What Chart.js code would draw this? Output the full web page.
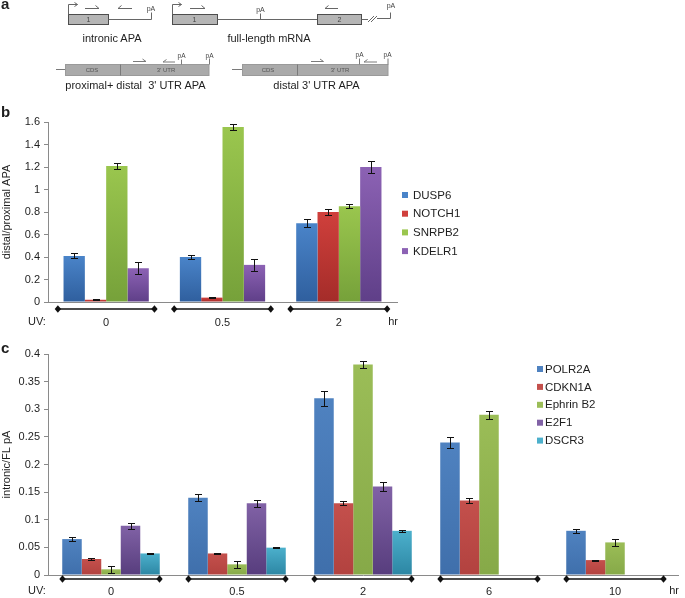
<!DOCTYPE html>
<html>
<head>
<meta charset="utf-8">
<script src="https://cdn.jsdelivr.net/npm/chart.js@4.4.0/dist/chart.umd.min.js"></script>
<style>
  body { margin: 0; background: #fff; }
  #fig { position: relative; width: 685px; height: 598px; font-family: "Liberation Sans", Arial, sans-serif; }
  #fig canvas { position: absolute; left: 0; }
  #overlay { position: absolute; left: 0; top: 0; pointer-events: none; }
  #overlay text { font-family: "Liberation Sans", Arial, sans-serif; fill: #1e1e1e; }
</style>
</head>
<body>
<div id="fig">
  <canvas id="chartB" width="685" height="235" style="top:100px"></canvas>
  <canvas id="chartC" width="685" height="263" style="top:335px"></canvas>

  <svg id="overlay" width="685" height="598">
    <!-- panel letters -->
    <text x="1" y="9" font-size="15" font-weight="bold">a</text>
    <text x="1" y="117" font-size="15" font-weight="bold">b</text>
    <text x="1" y="353" font-size="15" font-weight="bold">c</text>

    <!-- a: intronic APA -->
    <g fill="none" stroke="#666" stroke-width="1">
      <rect x="68.5" y="14.5" width="40" height="10" fill="#b5b5b5" stroke="#4d4d4d"/>
      <path d="M108.5 19.5 H151.5 V12.5"/>
      <path d="M68.5 14.5 V4.5 H77.5 M74.5 2.5 L77.5 4.5 L74.5 6.5"/>
      <path d="M85 8.5 H99 L95.5 5.5"/>
      <path d="M132 8.5 H118 L121.5 5.5"/>
    </g>
    <text x="88.5" y="22" font-size="7" text-anchor="middle" style="fill:#444">1</text>
    <text x="151" y="10.5" font-size="7" text-anchor="middle" style="fill:#444">pA</text>
    <text x="112" y="41.5" font-size="11" text-anchor="middle">intronic APA</text>

    <!-- a: full-length mRNA -->
    <g fill="none" stroke="#666" stroke-width="1">
      <rect x="172.5" y="14.5" width="45" height="10" fill="#b5b5b5" stroke="#4d4d4d"/>
      <path d="M217.5 19.5 H317.5"/>
      <path d="M260.5 19.5 V13.5"/>
      <rect x="317.5" y="14.5" width="44" height="10" fill="#b5b5b5" stroke="#4d4d4d"/>
      <path d="M361.5 19.5 H368 M377 18.5 H390.5 V12.5"/>
      <path d="M368 22 L374 16 M371 22 L377 16"/>
      <path d="M172.5 14.5 V4.5 H181.5 M178.5 2.5 L181.5 4.5 L178.5 6.5"/>
      <path d="M190 8.5 H205 L201.5 5.5"/>
      <path d="M338 8.5 H325 L328.5 5.5"/>
    </g>
    <text x="194.5" y="22" font-size="7" text-anchor="middle" style="fill:#444">1</text>
    <text x="339.5" y="22" font-size="7" text-anchor="middle" style="fill:#444">2</text>
    <text x="260.5" y="11.5" font-size="7" text-anchor="middle" style="fill:#444">pA</text>
    <text x="391" y="7.5" font-size="7" text-anchor="middle" style="fill:#444">pA</text>
    <text x="269" y="41.5" font-size="11" text-anchor="middle">full-length mRNA</text>

    <!-- a: proximal + distal 3' UTR APA -->
    <g fill="none" stroke="#7a7a7a" stroke-width="1">
      <path d="M56 69.5 H65"/>
      <rect x="65.5" y="64.5" width="143.5" height="11" fill="#aaaaaa" stroke="#9a9a9a"/>
      <path d="M120.5 64.5 V75.5"/>
      <path d="M181.5 64.5 V59.5 M209.5 64.5 V58.5"/>
      <path d="M133 61.5 H146 L142.5 59"/>
      <path d="M175 62 H163 L166.5 59.5"/>
    </g>
    <text x="92" y="72" font-size="6" text-anchor="middle" style="fill:#555">CDS</text>
    <text x="166" y="72" font-size="6" text-anchor="middle" style="fill:#555">3' UTR</text>
    <text x="181.5" y="58" font-size="6.5" text-anchor="middle" style="fill:#444">pA</text>
    <text x="209.5" y="57.5" font-size="6.5" text-anchor="middle" style="fill:#444">pA</text>
    <text x="135.5" y="89" font-size="11" text-anchor="middle" style="white-space:pre">proximal+ distal  3' UTR APA</text>

    <!-- a: distal 3' UTR APA -->
    <g fill="none" stroke="#7a7a7a" stroke-width="1">
      <path d="M232 69.5 H242"/>
      <rect x="242.5" y="64.5" width="145.5" height="11" fill="#aaaaaa" stroke="#9a9a9a"/>
      <path d="M297.5 64.5 V75.5"/>
      <path d="M359.5 64.5 V58.5 M388 64.5 V58.5"/>
      <path d="M311 61.5 H323.5 L320 59"/>
      <path d="M377 62 H364 L367.5 59.5"/>
    </g>
    <text x="268" y="72" font-size="6" text-anchor="middle" style="fill:#555">CDS</text>
    <text x="340" y="72" font-size="6" text-anchor="middle" style="fill:#555">3' UTR</text>
    <text x="359.5" y="57" font-size="6.5" text-anchor="middle" style="fill:#444">pA</text>
    <text x="387.5" y="57" font-size="6.5" text-anchor="middle" style="fill:#444">pA</text>
    <text x="316.5" y="89" font-size="11" text-anchor="middle">distal 3' UTR APA</text>
  </svg>
</div>

<script>
// ---- panel b: distal/proximal APA ----
const timesB = ['0', '0.5', '2'];
const dusp6 = [0.41, 0.40, 0.70];
const dusp6Err = [0.022, 0.02, 0.035];
const notch1 = [0.02, 0.039, 0.80];
const notch1Err = [0.003, 0.003, 0.027];
const snrpb2 = [1.21, 1.555, 0.852];
const snrpb2Err = [0.025, 0.028, 0.02];
const kdelr1 = [0.30, 0.33, 1.20];
const kdelr1Err = [0.052, 0.05, 0.05];

// ---- panel c: intronic/FL pA ----
const timesC = ['0', '0.5', '2', '6', '10'];
const polr2a = [0.065, 0.14, 0.32, 0.24, 0.08];
const polr2aErr = [0.0033, 0.006, 0.0133, 0.0097, 0.0036];
const cdkn1a = [0.029, 0.039, 0.13, 0.135, 0.027];
const cdkn1aErr = [0.001, 0.001, 0.004, 0.0042, 0.001];
const ephrinB2 = [0.0103, 0.0193, 0.381, 0.29, 0.059];
const ephrinB2Err = [0.006, 0.0063, 0.0057, 0.007, 0.0063];
const e2f1 = [0.089, 0.13, 0.16, null, null];
const e2f1Err = [0.0054, 0.0066, 0.008, null, null];
const dscr3 = [0.039, 0.0495, 0.08, null, null];
const dscr3Err = [0.001, 0.0012, 0.002, null, null];

const FONT = '"Liberation Sans", Arial, sans-serif';
const INK = '#1e1e1e';
const AXIS = '#8a8a8a';

// excel-ish vertical gradient per bar
function barFill(top, bottom) {
  return (ctx) => {
    const chart = ctx.chart;
    const y = chart.scales.y;
    if (ctx.type !== 'data' || !y || !chart.chartArea) return top;
    const v = ctx.raw;
    if (v == null) return top;
    const y1 = y.getPixelForValue(v), y0 = y.getPixelForValue(0);
    if (!isFinite(y1) || Math.abs(y0 - y1) < 1) return top;
    const g = chart.ctx.createLinearGradient(0, y1, 0, y0);
    g.addColorStop(0, top);
    g.addColorStop(1, bottom);
    return g;
  };
}

function ds(label, data, errors, top, bottom) {
  return { label, data, errors, legendColor: top, backgroundColor: barFill(top, bottom), borderWidth: 0 };
}

// error bars, the diamond-ended time bars, UV:/hr captions and the legend
const figureExtras = {
  id: 'figureExtras',
  afterDatasetsDraw(chart) {
    const ctx = chart.ctx, y = chart.scales.y;
    ctx.save();
    ctx.strokeStyle = '#111';
    ctx.lineWidth = 1;
    chart.data.datasets.forEach((d, i) => {
      chart.getDatasetMeta(i).data.forEach((bar, j) => {
        const v = d.data[j], e = d.errors[j];
        if (v == null || e == null) return;
        const x = Math.round(bar.x) + 0.5;
        const yt = Math.round(y.getPixelForValue(v + e)) + 0.5;
        const yb = Math.round(y.getPixelForValue(v - e)) + 0.5;
        ctx.beginPath();
        ctx.moveTo(x, yt); ctx.lineTo(x, yb);
        ctx.moveTo(x - 3.5, yt); ctx.lineTo(x + 3.5, yt);
        ctx.moveTo(x - 3.5, yb); ctx.lineTo(x + 3.5, yb);
        ctx.stroke();
      });
    });
    ctx.restore();
  },
  afterDraw(chart, args, opts) {
    const ctx = chart.ctx, xs = chart.scales.x, area = chart.chartArea;
    const n = chart.data.labels.length;
    const w = (xs.right - xs.left) / n;
    const ly = area.bottom + opts.barOffset;
    ctx.save();
    ctx.strokeStyle = '#111';
    ctx.fillStyle = '#111';
    ctx.lineWidth = 1.3;
    for (let i = 0; i < n; i++) {
      const c = xs.getPixelForValue(i);
      const x1 = c - w * opts.span, x2 = c + w * opts.span;
      ctx.beginPath();
      ctx.moveTo(x1, ly); ctx.lineTo(x2, ly);
      ctx.stroke();
      [x1, x2].forEach(x => {
        ctx.beginPath();
        ctx.moveTo(x, ly - 3.8); ctx.lineTo(x + 3.2, ly); ctx.lineTo(x, ly + 3.8); ctx.lineTo(x - 3.2, ly);
        ctx.closePath();
        ctx.fill();
      });
    }
    // captions
    ctx.font = '11px ' + FONT;
    ctx.fillStyle = INK;
    ctx.textBaseline = 'middle';
    ctx.textAlign = 'left';
    ctx.fillText('UV:', 28, opts.captionY);
    ctx.textAlign = 'right';
    ctx.fillText('hr', area.right + 1, opts.captionY);
    // legend
    ctx.textAlign = 'left';
    ctx.font = opts.legend.size + 'px ' + FONT;
    chart.data.datasets.forEach((d, i) => {
      const yy = opts.legend.y + i * opts.legend.gap;
      ctx.fillStyle = d.legendColor;
      ctx.fillRect(opts.legend.x, yy - 3, 6, 6);
      ctx.fillStyle = INK;
      ctx.fillText(d.label, opts.legend.x + opts.legend.textDx, yy + 0.5);
    });
    ctx.restore();
  }
};

function makeChart(id, labels, datasets, cfg) {
  return new Chart(document.getElementById(id), {
    type: 'bar',
    data: { labels, datasets },
    options: {
      responsive: false,
      animation: false,
      events: [],
      layout: { padding: cfg.padding },
      datasets: { bar: { categoryPercentage: cfg.catPct, barPercentage: 1 } },
      plugins: {
        legend: { display: false },
        tooltip: { enabled: false },
        figureExtras: cfg.extras
      },
      scales: {
        x: {
          grid: { display: false },
          border: { color: AXIS, width: 1 },
          ticks: { color: INK, font: { family: FONT, size: 11 }, padding: cfg.xPad, maxRotation: 0, autoSkip: false },
          afterFit: s => { s.height = cfg.xHeight; }
        },
        y: {
          min: 0,
          max: cfg.yMax,
          ticks: {
            stepSize: cfg.yStep,
            padding: 4,
            color: INK,
            font: { family: FONT, size: 11 },
            callback: v => String(+v.toFixed(2))
          },
          grid: { drawOnChartArea: false, drawTicks: true, tickLength: 4, color: AXIS },
          border: { color: AXIS, width: 1 },
          title: { display: true, text: cfg.yTitle, padding: 0, color: INK, font: { family: FONT, size: 11 } },
          afterFit: s => { s.width = 48; }
        }
      }
    },
    plugins: [figureExtras]
  });
}

makeChart('chartB', timesB, [
  ds('DUSP6', dusp6, dusp6Err, '#4a84c9', '#2f5f9e'),
  ds('NOTCH1', notch1, notch1Err, '#d0403c', '#a42c29'),
  ds('SNRPB2', snrpb2, snrpb2Err, '#9ac64e', '#76a13a'),
  ds('KDELR1', kdelr1, kdelr1Err, '#8c62b4', '#5f3f88')
], {
  padding: { top: 22, right: 288, left: 0, bottom: 0 },
  catPct: 0.733,
  xPad: 6,
  xHeight: 33,
  yMax: 1.6,
  yStep: 0.2,
  yTitle: 'distal/proximal APA',
  extras: { span: 0.415, barOffset: 7, captionY: 221.7, legend: { x: 402, y: 95, gap: 18.7, size: 11.5, textDx: 11 } }
});

makeChart('chartC', timesC, [
  ds('POLR2A', polr2a, polr2aErr, '#4f82c0', '#3f6fab'),
  ds('CDKN1A', cdkn1a, cdkn1aErr, '#c4504c', '#b2423f'),
  ds('Ephrin B2', ephrinB2, ephrinB2Err, '#9bbd57', '#86a948'),
  ds('E2F1', e2f1, e2f1Err, '#8162a6', '#573d7d'),
  ds('DSCR3', dscr3, dscr3Err, '#4cb0cc', '#2c86a3')
], {
  padding: { top: 19, right: 7, left: 0, bottom: 0 },
  catPct: 0.774,
  xPad: 2,
  xHeight: 23,
  yMax: 0.4,
  yStep: 0.05,
  yTitle: 'intronic/FL pA',
  extras: { span: 0.385, barOffset: 4, captionY: 256, legend: { x: 537, y: 34, gap: 17.9, size: 11.5, textDx: 8 } }
});
</script>
</body>
</html>
